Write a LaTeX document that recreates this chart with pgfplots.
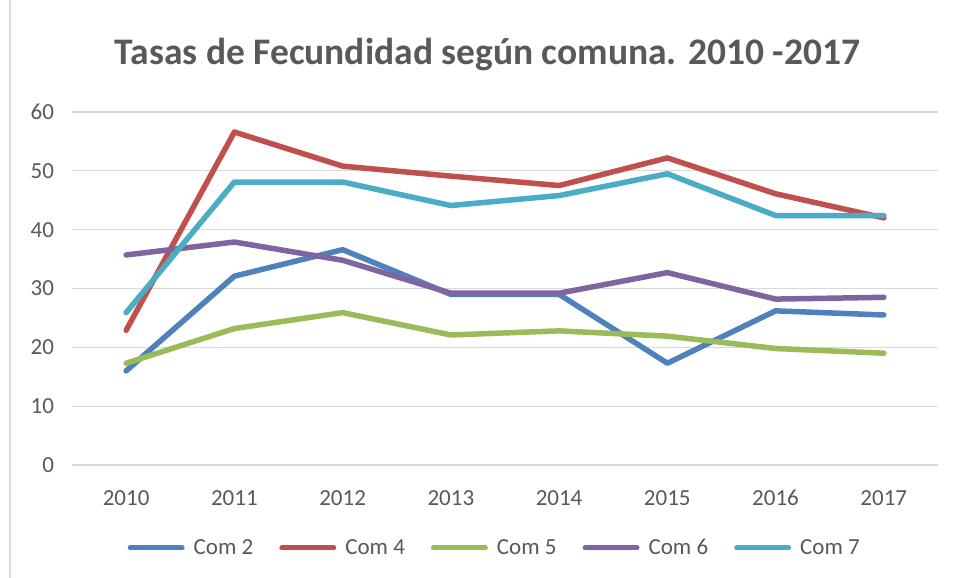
\documentclass[border=0pt]{standalone}
\usepackage{pgfplots}
\pgfplotsset{compat=1.18}
\usepackage{fontspec}
\setmainfont{Carlito}
\definecolor{txt}{HTML}{595959}
\definecolor{grd}{HTML}{D9D9D9}
\definecolor{c2}{HTML}{4F81BD}
\definecolor{c4}{HTML}{C0504D}
\definecolor{c5}{HTML}{9BBB59}
\definecolor{c6}{HTML}{8064A2}
\definecolor{c7}{HTML}{4BACC6}
\begin{document}
\begin{tikzpicture}
\useasboundingbox (-72bp,-113bp) rectangle (882bp,465bp);
\fill[white] (-72bp,-113bp) rectangle (882bp,465bp);
\draw[grd, line width=1.2bp] (-62bp,-113bp) -- (-62bp,465bp);
\node[text=txt, font=\fontsize{37.5bp}{44bp}\selectfont\bfseries] at (415.5bp,410bp) {Tasas de Fecundidad según comuna. 2010 -2017};
\begin{axis}[
  at={(0,0)}, anchor=south west,
  scale only axis, width=866bp, height=353bp,
  xmin=2009.5, xmax=2017.5, ymin=0, ymax=60,
  xtick={2010,...,2017}, ytick={0,10,...,60},
  /pgf/number format/assume math mode=true,
  xticklabel style={/pgf/number format/1000 sep={}},
  ymajorgrids, grid style={grd, line width=1.2bp},
  axis x line*=bottom, axis y line*=left,
  x axis line style={grd, line width=1.2bp, -},
  y axis line style={draw=none},
  major tick length=0pt,
  tick label style={text=txt, font=\fontsize{23bp}{27bp}\selectfont},
  xticklabel style={anchor=base, yshift=-40bp},
  yticklabel style={anchor=east, xshift=-14.5bp},
  every axis plot/.append style={line width=5.5bp, line join=round, line cap=round, no marks},
  legend columns=5,
  legend style={at={(0.487,-0.235)}, anchor=center, draw=none, fill=none,
    font=\fontsize{23bp}{27bp}\selectfont, text=txt,
    nodes={inner xsep=0pt},
    /tikz/every odd column/.append style={column sep=9bp},
    /tikz/every even column/.append style={column sep=26bp}},
  legend image code/.code={\draw[#1, line width=5bp, line cap=round] (0bp,0bp) -- (52bp,0bp);},
]
\addplot[c2] coordinates {(2010,16.0) (2011,32.1) (2012,36.6) (2013,29.0) (2014,29.0) (2015,17.3) (2016,26.2) (2017,25.5)};
\addlegendentry{Com 2}
\addplot[c4] coordinates {(2010,22.9) (2011,56.6) (2012,50.8) (2013,49.1) (2014,47.5) (2015,52.2) (2016,46.1) (2017,42.0)};
\addlegendentry{Com 4}
\addplot[c5] coordinates {(2010,17.3) (2011,23.2) (2012,25.9) (2013,22.1) (2014,22.8) (2015,21.9) (2016,19.8) (2017,19.0)};
\addlegendentry{Com 5}
\addplot[c6] coordinates {(2010,35.7) (2011,37.9) (2012,34.8) (2013,29.2) (2014,29.2) (2015,32.7) (2016,28.2) (2017,28.5)};
\addlegendentry{Com 6}
\addplot[c7] coordinates {(2010,25.9) (2011,48.1) (2012,48.1) (2013,44.1) (2014,45.8) (2015,49.5) (2016,42.4) (2017,42.4)};
\addlegendentry{Com 7}
\end{axis}
\end{tikzpicture}
\end{document}
